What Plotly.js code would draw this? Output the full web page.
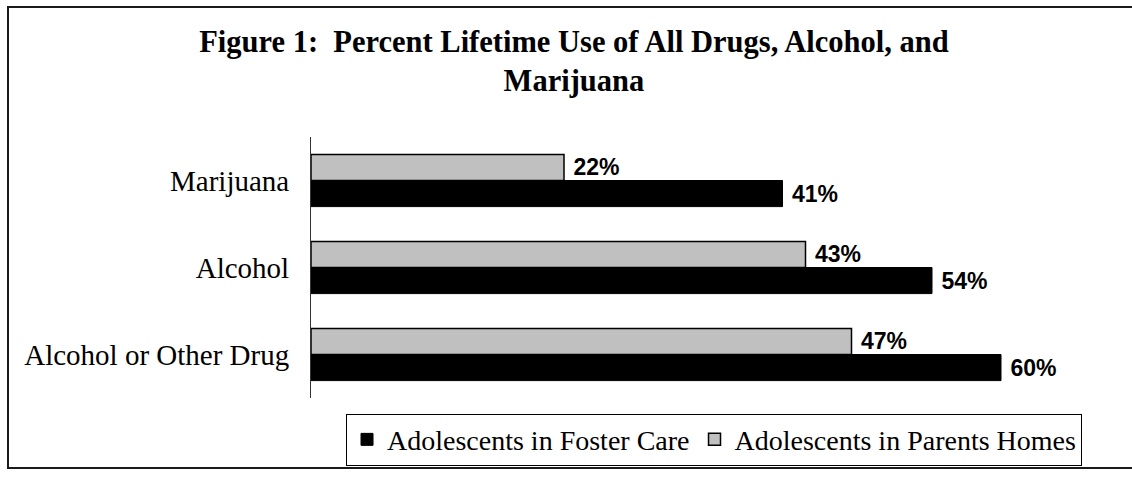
<!DOCTYPE html>
<html>
<head>
<meta charset="utf-8">
<script src="https://cdn.plot.ly/plotly-3.0.1.min.js"></script>
<style>
  html, body { margin: 0; padding: 0; background: #fff; }
  #wrap { position: relative; width: 1132px; height: 478px; overflow: hidden; }
  #chart { width: 1132px; height: 478px; }
  #frame { position: absolute; left: 7px; top: 6px; width: 1200px; height: 459px;
           border: 2px solid #1a1a1a; pointer-events: none; }
</style>
</head>
<body>
<div id="wrap">
  <div id="chart"></div>
  <div id="frame"></div>
</div>
<script>
// Categories listed top to bottom as in the figure
const categories = ['Marijuana', 'Alcohol', 'Alcohol or Other Drug'];
const seriesNames = ['Adolescents in Foster Care', 'Adolescents in Parents Homes'];
const fosterCare = [41, 54, 60];
const parentsHomes = [22, 43, 47];
const titleText = 'Figure 1:\u00a0 Percent Lifetime Use of All Drugs, Alcohol, and<br>Marijuana';

const serif = '"Liberation Serif", "Times New Roman", Times, serif';
const sans = '"Liberation Sans", Arial, Helvetica, sans-serif';

const labelFont = { family: sans, size: 23, color: '#000', weight: 'bold' };

const traces = [
  {
    type: 'bar', orientation: 'h', name: seriesNames[0],
    y: categories, x: fosterCare,
    marker: { color: '#000000', line: { color: '#000000', width: 1 } },
    texttemplate: '\u00a0%{x}%', textposition: 'outside',
    textfont: labelFont, cliponaxis: false, constraintext: 'none',
    hoverinfo: 'skip'
  },
  {
    type: 'bar', orientation: 'h', name: seriesNames[1],
    y: categories, x: parentsHomes,
    marker: { color: '#C0C0C0', line: { color: '#000000', width: 1.5 } },
    texttemplate: '\u00a0%{x}%', textposition: 'outside',
    textfont: labelFont, cliponaxis: false, constraintext: 'none',
    hoverinfo: 'skip'
  }
];

const layout = {
  width: 1132, height: 478,
  margin: { l: 311, r: 16, t: 137, b: 75, pad: 0 },
  paper_bgcolor: '#ffffff', plot_bgcolor: '#ffffff',
  barmode: 'group', bargap: 0.4, bargroupgap: 0,
  title: {
    text: titleText,
    font: { family: serif, size: 30.5, color: '#000', weight: 'bold' },
    xref: 'container', x: 0.507, xanchor: 'center',
    yref: 'container', y: 0.892, yanchor: 'top'
  },
  xaxis: {
    range: [0, 70], showgrid: false, zeroline: false, showline: false,
    showticklabels: false, ticks: '', fixedrange: true
  },
  yaxis: {
    type: 'category', categoryorder: 'array',
    categoryarray: categories.slice().reverse(),
    showline: true, linecolor: '#333333', linewidth: 1,
    showgrid: false, zeroline: false, ticks: '',
    ticklabelstandoff: 15,
    tickfont: { family: serif, size: 29, color: '#000' },
    fixedrange: true
  },
  showlegend: true,
  legend: {
    orientation: 'h', traceorder: 'normal',
    x: 0.0435, xanchor: 'left', y: -0.06, yanchor: 'top',
    bgcolor: '#ffffff', bordercolor: '#000000', borderwidth: 1,
    font: { family: serif, size: 28, color: '#000' },
    itemwidth: 30
  }
};

Plotly.newPlot('chart', traces, layout, { displayModeBar: false, staticPlot: true });
</script>
</body>
</html>
